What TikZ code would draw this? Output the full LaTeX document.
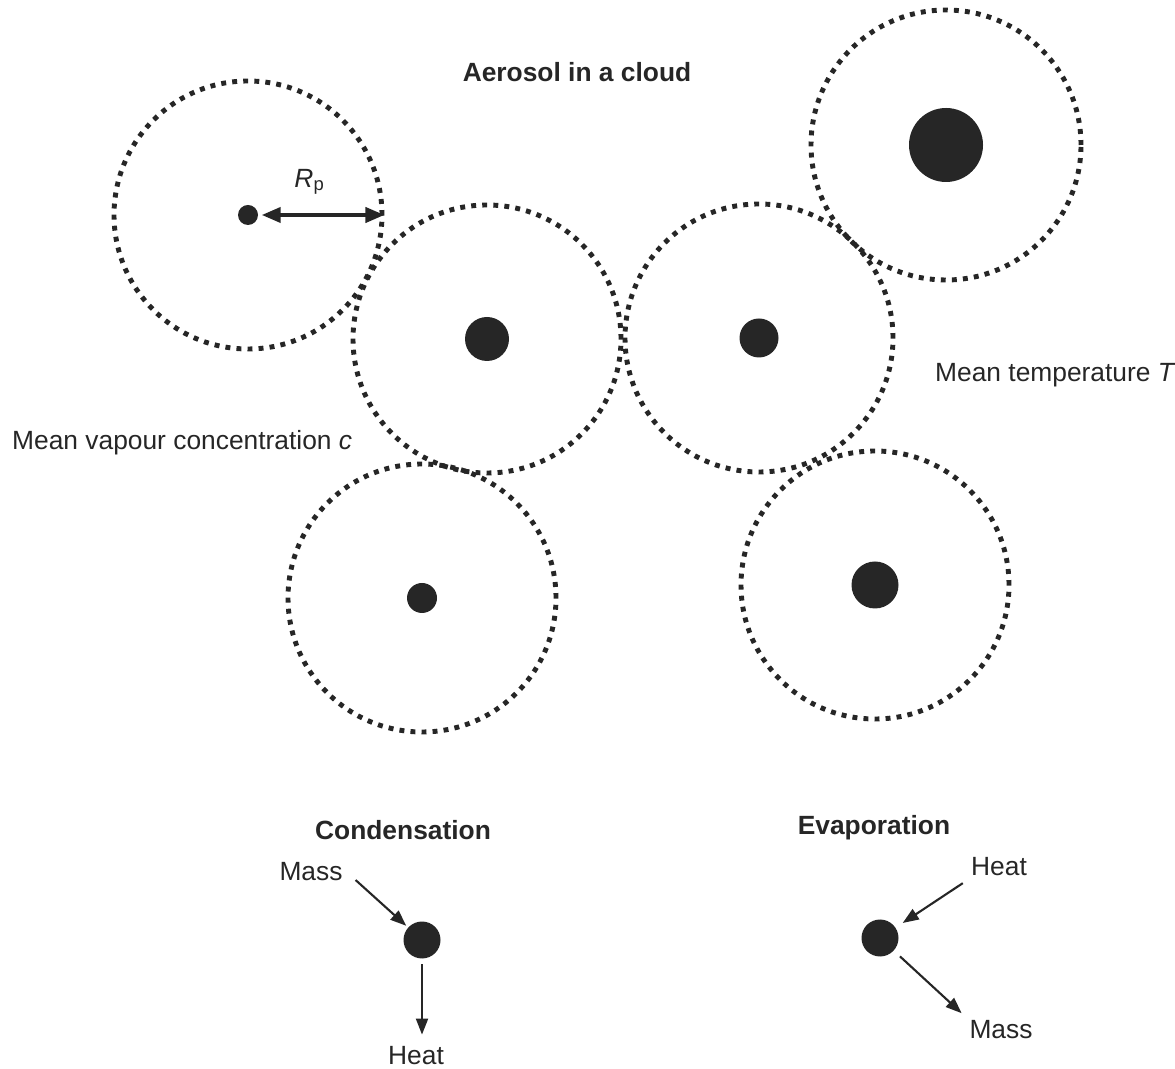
\documentclass[tikz,border=0pt]{standalone}
\usepackage{fontspec}
\setmainfont{Liberation Sans}
\usetikzlibrary{arrows.meta}

\begin{document}
\begin{tikzpicture}[
		shell/.style={draw=black!85, circle, line width=1.4pt, dash pattern=on 1.4pt off 1.75pt, minimum size=2.68cm, inner sep=0pt},
		core/.style={circle, fill=black!85, inner sep=0pt},
		lbl/.style={font=\fontsize{7.5}{9}\selectfont, text=black!85, inner sep=1pt},
		ttl/.style={font=\fontsize{7.5}{9}\selectfont\bfseries, text=black!85, inner sep=1pt},
		arr/.style={draw=black!85, line width=0.6pt, -{Triangle[length=0.16cm, width=0.12cm]}}
	]
				\useasboundingbox (0, 0) rectangle (11.75, 10.68);
				\node[ttl] (title)at(5.77, 9.96) {Aerosol in a cloud};
				% droplets with their dotted zones
				\node[shell] (S1)at(2.48, 8.53) {};
				\node[core, minimum size=0.2cm] (C1)at(2.48, 8.53) {};
				\node[shell] (S2)at(4.87, 7.29) {};
				\node[core, minimum size=0.44cm] (C2)at(4.87, 7.29) {};
				\node[shell] (S3)at(7.59, 7.30) {};
				\node[core, minimum size=0.39cm] (C3)at(7.59, 7.30) {};
				\node[shell, minimum size=2.70cm] (S4)at(9.46, 9.23) {};
				\node[core, minimum size=0.74cm] (C4)at(9.46, 9.23) {};
				\node[shell] (S5)at(4.22, 4.70) {};
				\node[core, minimum size=0.30cm] (C5)at(4.22, 4.70) {};
				\node[shell] (S6)at(8.75, 4.83) {};
				\node[core, minimum size=0.47cm] (C6)at(8.75, 4.83) {};
				\draw (C1) edge[draw=black!85, line width=1.1pt, {Triangle[length=0.19cm, width=0.15cm]}-{Triangle[length=0.19cm, width=0.15cm]}, shorten <=0.03cm] (S1.east);
				\node[lbl] (Rp)at(3.10, 8.86) {\textit{R}\textsubscript{p}};
				\node[lbl, anchor=west] (T)at(9.31, 6.93) {Mean temperature \textit{T}};
				\node[lbl, anchor=west] (c)at(0.08, 6.25) {Mean vapour concentration \textit{c}};
				% condensation
				\node[ttl] (cond)at(4.03, 2.38) {Condensation};
				\node[core, minimum size=0.37cm] (C7)at(4.22, 1.28) {};
				\node[lbl] (M7)at(3.11, 1.96) {Mass};
				\node[lbl] (H7)at(4.16, 0.12) {Heat};
				\draw (M7.east) edge[arr, shorten <=0.12cm, shorten >=0.02cm] (C7);
				\draw (C7) edge[arr, shorten <=0.05cm, shorten >=0.08cm] (C7 |- H7.north);
				% evaporation
				\node[ttl] (evap)at(8.74, 2.40) {Evaporation};
				\node[core, minimum size=0.37cm] (C8)at(8.80, 1.30) {};
				\node[lbl] (H8)at(9.99, 2.01) {Heat};
				\node[lbl] (M8)at(10.01, 0.38) {Mass};
				\draw (H8.south west) edge[arr, shorten <=0.05cm, shorten >=0.08cm] (C8);
				\draw (C8) edge[arr, shorten <=0.08cm, shorten >=0.05cm] (M8.north west);
			\end{tikzpicture}
\end{document}
